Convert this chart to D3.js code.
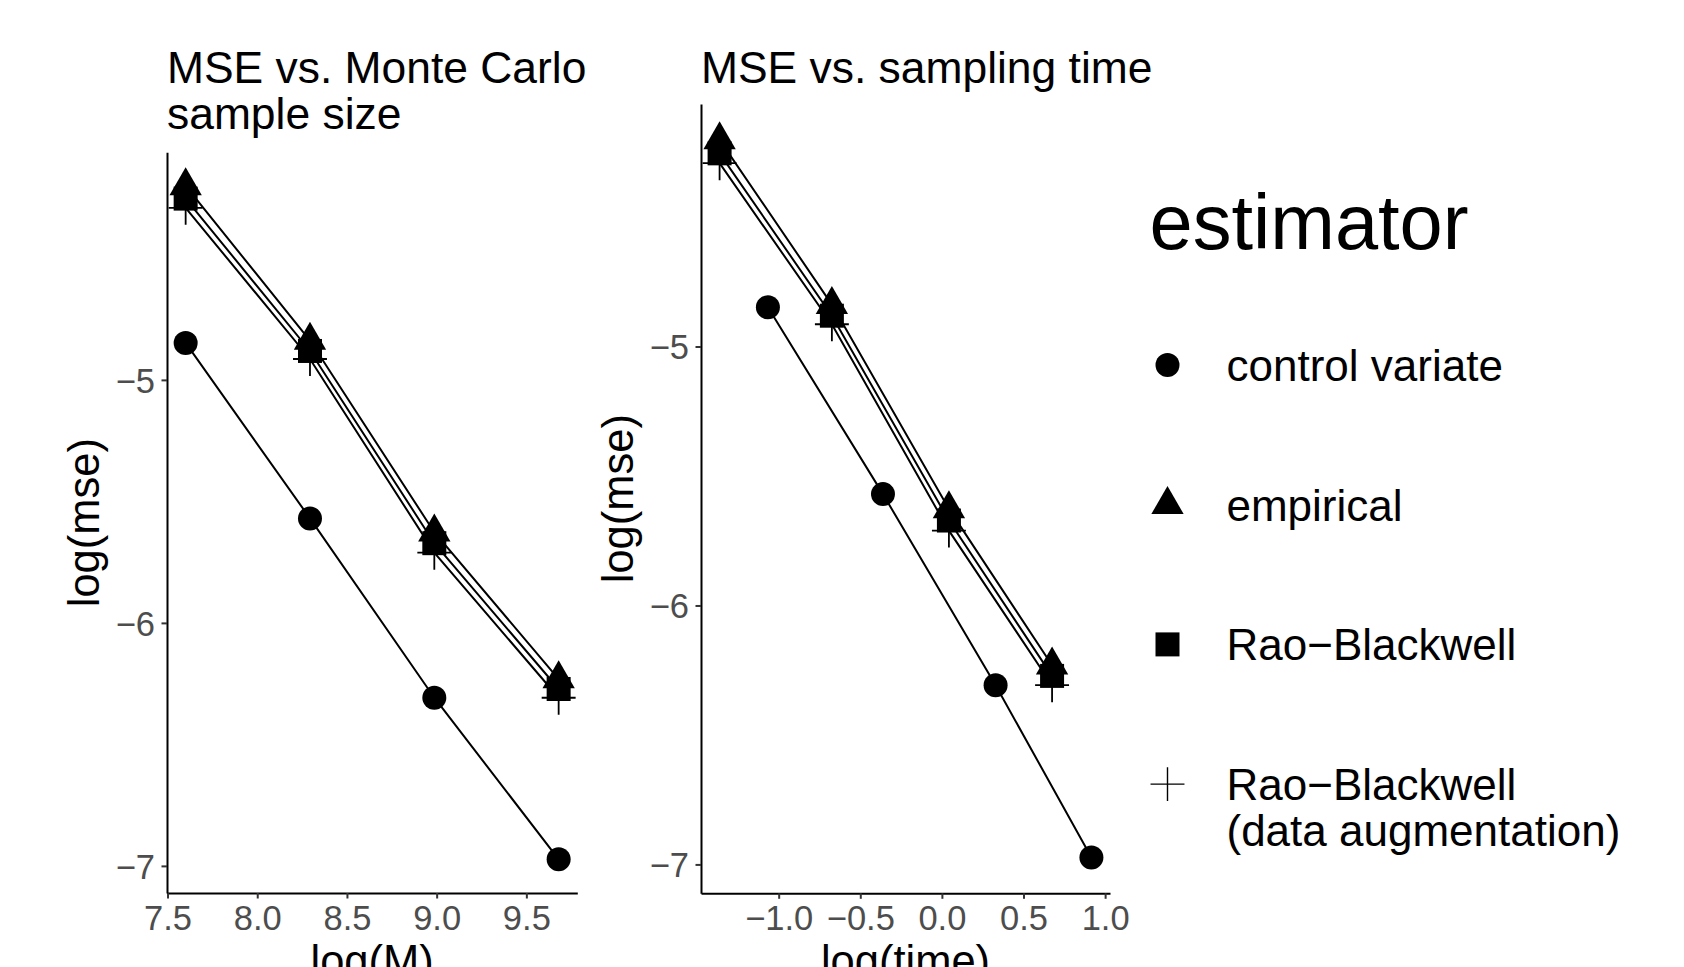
<!DOCTYPE html>
<html>
<head>
<meta charset="utf-8">
<script src="https://cdn.jsdelivr.net/npm/d3@7"></script>
<style>
    body { margin: 0; background: #fff; }
    text { font-family: "Liberation Sans", Arial, sans-serif; }
</style>
</head>
<body>
<div id="chart"></div>
<script>
// estimators, in legend order
var estimators = ["control variate", "empirical", "Rao\u2212Blackwell", "Rao\u2212Blackwell|(data augmentation)"];
var shapes = ["circle", "triangle", "square", "plus"];

// x values
var logM = [7.601, 8.294, 8.987, 9.680];
var logTimeControl = [-1.066, -0.361, 0.329, 0.916];
var logTimeOther = [-1.362, -0.674, 0.043, 0.675];

// log(mse) per estimator
var mseControl = [-4.848, -5.570, -6.308, -6.973];
var mseEmpirical = [-4.202, -4.838, -5.627, -6.231];
var mseRB = [-4.254, -4.881, -5.672, -6.272];
var mseRBDA = [-4.292, -4.914, -5.711, -6.308];

var yTicks = [-5, -6, -7];
var xTicksM = [7.5, 8.0, 8.5, 9.0, 9.5];
var xTicksTime = [-1.0, -0.5, 0.0, 0.5, 1.0];

(function () {
    'use strict';

    var w = 1684, h = 967,
        R = 12;                     // point radius

    var allY = [mseControl, mseEmpirical, mseRB, mseRBDA];

    var svg = d3.select("#chart").append("svg")
        .attr("width", w)
        .attr("height", h);

    function expand(ext) {
        var d = (ext[1] - ext[0]) * 0.05;
        return [ext[0] - d, ext[1] + d];
    }

    function minus(s) { return s.replace(/-/g, "\u2212"); }

    function plusPath(r) {
        var a = r * Math.SQRT2;
        return "M" + (-a) + ",0H" + a + "M0," + (-a) + "V" + a;
    }

    function drawShape(g, shape) {
        if (shape === "plus") {
            return g.append("path").attr("d", plusPath(R))
                .attr("fill", "none").attr("stroke", "#000").attr("stroke-width", 1.8);
        }
        var sym = shape === "circle" ? d3.symbolCircle :
                  shape === "triangle" ? d3.symbolTriangle : d3.symbolSquare;
        var size = shape === "circle" ? Math.PI * R * R :
                   shape === "triangle" ? 3 * Math.sqrt(3) * Math.pow(0.7776 * R, 2) :
                   Math.pow(2 * R, 2);
        return g.append("path").attr("d", d3.symbol(sym, size)()).attr("fill", "#000");
    }

    function panel(opts) {
        var xs = opts.xs;
        var allX = [].concat.apply([], xs);
        var yVals = [].concat.apply([], allY);

        var x = d3.scaleLinear().domain(expand(d3.extent(allX))).range([opts.left, opts.right]);
        var y = d3.scaleLinear().domain(expand(d3.extent(yVals))).range([opts.bottom, opts.top]);

        var g = svg.append("g");

        // title lines
        opts.title.forEach(function (t, i) {
            g.append("text")
                .attr("x", opts.left)
                .attr("y", 82.5 + i * 46)
                .attr("font-size", "44.4px")
                .attr("fill", "#000")
                .text(t);
        });

        var xAxis = d3.axisBottom(x).tickValues(opts.xTicks).tickSize(5.5).tickSizeOuter(0)
            .tickPadding(7).tickFormat(function (d) { return minus(d3.format(".1f")(d)); });
        var yAxis = d3.axisLeft(y).tickValues(yTicks).tickSize(5.5).tickSizeOuter(0)
            .tickPadding(6.5).tickFormat(function (d) { return minus(String(d)); });

        var gx = g.append("g").attr("transform", "translate(0," + opts.bottom + ")").call(xAxis);
        var gy = g.append("g").attr("transform", "translate(" + opts.left + ",0)").call(yAxis);

        [gx, gy].forEach(function (a) {
            a.select(".domain").attr("stroke", "#000").attr("stroke-width", 2);
            a.selectAll(".tick line").attr("stroke", "#333").attr("stroke-width", 2);
            a.selectAll(".tick text")
                .attr("fill", "#4d4d4d")
                .attr("font-size", "34.5px")
                .attr("font-family", "Liberation Sans, Arial, sans-serif");
        });
        gy.selectAll(".tick text").attr("dy", "0.36em");

        // axis titles
        g.append("text")
            .attr("x", (opts.left + opts.right) / 2)
            .attr("y", 976)
            .attr("text-anchor", "middle")
            .attr("font-size", "43.5px")
            .text(opts.xLabel);

        g.append("text")
            .attr("transform", "translate(" + (opts.left - 68) + "," + ((opts.top + opts.bottom) / 2) + ") rotate(-90)")
            .attr("text-anchor", "middle")
            .attr("font-size", "43.5px")
            .text("log(mse)");

        var line = d3.line()
            .x(function (d) { return x(d[0]); })
            .y(function (d) { return y(d[1]); });

        var series = allY.map(function (ys, i) {
            return ys.map(function (v, j) { return [xs[i][j], v]; });
        });

        g.selectAll("path.series")
            .data(series)
            .enter().append("path")
            .attr("class", "series")
            .attr("fill", "none")
            .attr("stroke", "#000")
            .attr("stroke-width", 2)
            .attr("d", line);

        series.forEach(function (s, i) {
            s.forEach(function (d) {
                var pg = g.append("g").attr("transform", "translate(" + x(d[0]) + "," + y(d[1]) + ")");
                drawShape(pg, shapes[i]);
            });
        });
    }

    panel({
        left: 167, right: 577.3, top: 152.3, bottom: 893,
        xs: [logM, logM, logM, logM],
        xTicks: xTicksM,
        title: ["MSE vs. Monte Carlo", "sample size"],
        xLabel: "log(M)"
    });

    panel({
        left: 701, right: 1110, top: 104, bottom: 893.3,
        xs: [logTimeControl, logTimeOther, logTimeOther, logTimeOther],
        xTicks: xTicksTime,
        title: ["MSE vs. sampling time"],
        xLabel: "log(time)"
    });

    // legend
    var lg = svg.append("g");
    lg.append("text")
        .attr("x", 1149.5)
        .attr("y", 249)
        .attr("font-size", "77.6px")
        .text("estimator");

    estimators.forEach(function (name, i) {
        var cy = 365 + i * 139.7;
        var kg = lg.append("g").attr("transform", "translate(1167.5," + cy + ")");
        drawShape(kg, shapes[i]).attr("stroke-width", shapes[i] === "plus" ? 1.4 : null);
        name.split("|").forEach(function (t, k) {
            lg.append("text")
                .attr("x", 1226.5)
                .attr("y", cy + k * 46)
                .attr("dy", "0.36em")
                .attr("font-size", "44px")
                .text(t);
        });
    });
})();
</script>
</body>
</html>
